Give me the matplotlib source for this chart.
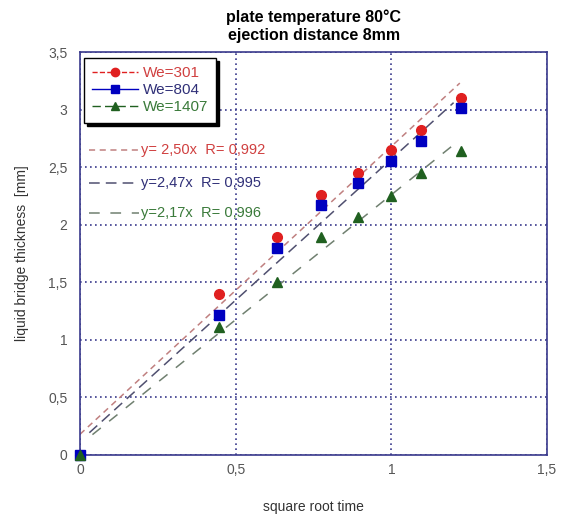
import numpy as np
import matplotlib
matplotlib.use("Agg")
import matplotlib.pyplot as plt
from matplotlib.ticker import FuncFormatter

plt.rcParams['font.family'] = ['Liberation Sans', 'DejaVu Sans']

x = [0.0, 0.447, 0.632, 0.775, 0.894, 1.0, 1.095, 1.225]
we301 = [0.0, 1.40, 1.89, 2.26, 2.45, 2.65, 2.82, 3.10]
we804 = [0.0, 1.22, 1.80, 2.17, 2.36, 2.55, 2.73, 3.01]
we1407 = [0.0, 1.11, 1.50, 1.89, 2.07, 2.25, 2.45, 2.64]

series_names = ["We=301", "We=804", "We=1407"]
fit_slopes = [2.50, 2.45, 2.17]
fit_intercepts = [0.18, 0.12, 0.09]
fit_start = [0.0, 0.03, 0.04]
fit_end = [1.22, 1.20, 1.20]
fit_labels = ["y= 2,50x  R= 0,992", "y=2,47x  R= 0,995", "y=2,17x  R= 0,996"]

fig = plt.figure(figsize=(5.68, 5.19), dpi=100)
ax = fig.add_axes([80/568, 1-455/519, (547-80)/568, (455-52)/519])

navy = '#3a3a8c'
mcolors = ['#e02020', '#0000c0', '#206020']
tcolors = ['#d04040', '#303078', '#3a7a3a']
fitcolors = ['#c08080', '#505070', '#708070']
fitdash = [(0, (4, 3)), (0, (7, 4)), (0, (7, 7))]

ax.set_xlim(0, 1.5)
ax.set_ylim(0, 3.5)
ax.set_xticks([0, 0.5, 1, 1.5])
ax.set_yticks([0, 0.5, 1, 1.5, 2, 2.5, 3, 3.5])
fmt = FuncFormatter(lambda v, p: ('%g' % v).replace('.', ','))
ax.xaxis.set_major_formatter(fmt)
ax.yaxis.set_major_formatter(fmt)
ax.grid(True, color=navy, linestyle=(0, (1, 2)), linewidth=1.2)
ax.set_axisbelow(True)
for s in ax.spines.values():
    s.set_color(navy)
    s.set_linewidth(1.2)
ax.tick_params(colors='#555555', labelsize=10, length=0)
ax.tick_params(axis='x', pad=6)
ax.tick_params(axis='y', pad=9)

# fit lines
for k in range(3):
    xs = np.array([fit_start[k], fit_end[k]])
    ax.plot(xs, fit_slopes[k]*xs + fit_intercepts[k], color=fitcolors[k],
            linestyle=fitdash[k], linewidth=1.1)

ys = [we301, we804, we1407]
markers = ['o', 's', '^']
lstyles = ['--', '-', (0, (6, 3))]
handles = []
for k in range(3):
    ax.plot(x, ys[k], linestyle='none', marker=markers[k], color=mcolors[k],
            markersize=7, clip_on=False, zorder=5)
    h, = ax.plot([], [], linestyle=lstyles[k], marker=markers[k],
                 color=mcolors[k], markersize=6, linewidth=1.0)
    handles.append(h)

leg = ax.legend(handles, series_names, loc='upper left', bbox_to_anchor=(0.0, 0.995),
                frameon=True, fancybox=False, shadow={'color': 'black', 'alpha': 1},
                edgecolor='black', fontsize=11, handlelength=3.0, borderpad=0.55,
                labelspacing=0.2, handletextpad=0.3, borderaxespad=0.25)
leg.get_frame().set_linewidth(1.0)
for t, c in zip(leg.get_texts(), tcolors):
    t.set_color(c)

# fit labels
label_y = [2.65, 2.36, 2.10]
for k in range(3):
    ax.plot([0.03, 0.19], [label_y[k], label_y[k]], color=fitcolors[k],
            linestyle=fitdash[k], linewidth=1.1)
    ax.text(0.195, label_y[k], fit_labels[k], color=tcolors[k], fontsize=10.5,
            va='center', ha='left')

ax.set_xlabel('square root time', fontsize=10, color='#333333', labelpad=16)
ax.set_ylabel('liquid bridge thickness  [mm]', fontsize=10, color='#333333', labelpad=14)
fig.text(314/568, 1-26/519, 'plate temperature 80°C\nejection distance 8mm',
         ha='center', va='center', fontsize=11.5, fontweight='bold', linespacing=1.25)

fig.savefig('out.png', dpi=100)
